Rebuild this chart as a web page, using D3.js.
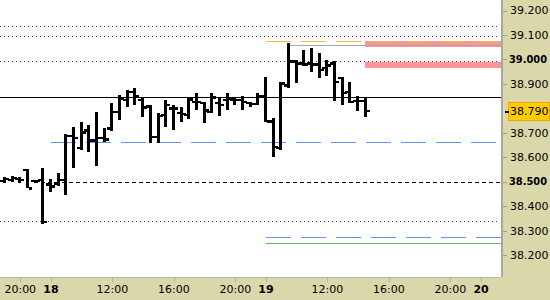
<!DOCTYPE html>
<html>
<head>
<meta charset="utf-8">
<script src="https://cdn.jsdelivr.net/npm/d3@7"></script>
<style>
  body { margin: 0; background: #fff; }
  text { font-family: "DejaVu Sans", Verdana, sans-serif; font-size: 11px; fill: #000; }
</style>
</head>
<body>
<div id="chart"></div>
<script>
// bar start, in trading hours counted from 8:00 on day 17 (a day = 8:00..22:00)
const times = [11, 11.5, 12, 12.5, 13, 13.5,
  14, 14.5, 15, 15.5, 16, 16.5, 17, 17.5, 18, 18.5, 19, 19.5, 20, 20.5,
  21, 21.5, 22, 22.5, 23, 23.5, 24, 24.5, 25, 25.5, 26, 26.5, 27, 27.5,
  28, 28.5, 29, 29.5, 30, 30.5, 31, 31.5, 32, 32.5, 33, 33.5, 34, 34.5];
const opens = [38.503, 38.507, 38.511, 38.548, 38.503, 38.507,
  38.490, 38.494, 38.507, 38.687, 38.638, 38.711, 38.670, 38.679, 38.719, 38.785, 38.834, 38.867, 38.834, 38.809,
  38.683, 38.773, 38.801, 38.781, 38.773, 38.826, 38.822, 38.785, 38.822, 38.834, 38.838, 38.834, 38.822, 38.818,
  38.850, 38.748, 38.638, 38.895, 38.993, 38.985, 38.985, 38.981, 38.965, 38.985, 38.924, 38.867, 38.830, 38.830];
const highs = [38.519, 38.523, 38.519, 38.552, 38.507, 38.556,
  38.511, 38.535, 38.695, 38.724, 38.744, 38.732, 38.785, 38.719, 38.822, 38.854, 38.875, 38.883, 38.842, 38.814,
  38.781, 38.834, 38.814, 38.805, 38.846, 38.863, 38.826, 38.863, 38.846, 38.863, 38.846, 38.850, 38.826, 38.863,
  38.928, 38.760, 38.908, 39.067, 38.998, 39.038, 39.047, 39.026, 38.998, 38.993, 38.928, 38.908, 38.850, 38.842];
const lows = [38.494, 38.498, 38.494, 38.474, 38.498, 38.327,
  38.458, 38.482, 38.445, 38.556, 38.629, 38.621, 38.564, 38.662, 38.707, 38.752, 38.805, 38.814, 38.764, 38.658,
  38.658, 38.724, 38.711, 38.744, 38.756, 38.793, 38.740, 38.781, 38.769, 38.793, 38.814, 38.793, 38.805, 38.814,
  38.744, 38.601, 38.629, 38.883, 38.903, 38.973, 38.948, 38.924, 38.932, 38.830, 38.814, 38.822, 38.789, 38.764];
const closes = [38.511, 38.515, 38.507, 38.474, 38.503, 38.335,
  38.482, 38.507, 38.687, 38.679, 38.703, 38.670, 38.679, 38.674, 38.785, 38.842, 38.867, 38.850, 38.805, 38.683,
  38.769, 38.814, 38.801, 38.777, 38.838, 38.826, 38.793, 38.846, 38.814, 38.842, 38.834, 38.826, 38.818, 38.850,
  38.748, 38.642, 38.903, 38.993, 38.985, 38.981, 38.981, 38.957, 38.977, 38.908, 38.863, 38.826, 38.830, 38.790];

const lastPrice = 38.790;
const pivotLevels = [39.137, 39.096, 38.993, 38.339];
const prevClose = 38.845;
const day17Close = 38.50;
const day18Level = 38.661;
const day19Levels = { blue: 38.272, green: 38.248, orange: 39.075, high: 39.058 };
const zones = [[39.051, 39.075], [38.965, 38.989]];

const yTicks = [39.2, 39.1, 39.0, 38.9, 38.7, 38.6, 38.5, 38.4, 38.3, 38.2];
const boldY = [39.0, 38.5];
const xTicks = [12, 14, 18, 22, 26, 28, 32, 36, 40, 42];
const xLabels = ["20:00", "18", "12:00", "16:00", "20:00", "19", "12:00", "16:00", "20:00", "20"];
const dayTicks = [14, 28, 42];

const W = 550, H = 300, plotW = 501, plotH = 277;

const svg = d3.select("#chart").append("svg")
  .attr("width", W).attr("height", H)
  .attr("shape-rendering", "crispEdges");

const x = d3.scaleLinear().domain([10.68, 43.3]).range([0, plotW]);
const y = d3.scaleLinear().domain([38.2, 39.2]).range([255, 10.5]);

// axis panels
svg.append("rect").attr("x", plotW).attr("y", 0).attr("width", W - plotW).attr("height", H).attr("fill", "#dad8aa");
svg.append("rect").attr("x", 0).attr("y", plotH).attr("width", W).attr("height", H - plotH).attr("fill", "#dad8aa");
svg.append("line").attr("x1", plotW + 0.5).attr("x2", plotW + 0.5).attr("y1", 0).attr("y2", plotH)
  .attr("stroke", "#a8a8a0").attr("stroke-width", 2);
svg.append("line").attr("x1", 0).attr("x2", plotW).attr("y1", plotH + 0.5).attr("y2", plotH + 0.5)
  .attr("stroke", "#b8b8b0").attr("stroke-width", 1);

function hline(p, x1, x2, color, dash, w) {
  svg.append("line")
    .attr("x1", x1).attr("x2", x2)
    .attr("y1", Math.round(y(p)) + 0.5).attr("y2", Math.round(y(p)) + 0.5)
    .attr("stroke", color).attr("stroke-width", w || 1)
    .attr("stroke-dasharray", dash || null);
}

// pink zones
svg.selectAll("rect.zone")
  .data(zones)
  .join("rect")
  .attr("class", "zone")
  .attr("x", x(34.44)).attr("width", plotW - x(34.44))
  .attr("y", d => y(d[1])).attr("height", d => y(d[0]) - y(d[1]))
  .attr("fill", "#ff9494");

// levels
pivotLevels.forEach(p => hline(p, 0, 498, "#8a00c8", "1,3"));
hline(prevClose, 0, plotW, "#000");
hline(day17Close, x(12.9), plotW, "#000", "4,3");
hline(day18Level, x(14), 498, "#6495ed", "25,10");
hline(day19Levels.blue, x(28), plotW, "#6495ed", "25,10");
hline(day19Levels.green, x(28), plotW, "#5cbf5c");
hline(day19Levels.high, x(29.4), plotW, "#a8a8a8");
hline(day19Levels.orange, x(28), plotW, "#f4b840", "25,10");

// OHLC bars
const bars = times.map((t, i) => ({ t, o: opens[i], h: highs[i], l: lows[i], c: closes[i] }));
const g = svg.append("g");
g.selectAll("rect.hl").data(bars).join("rect")
  .attr("x", d => Math.round(x(d.t)) - 2.5).attr("width", 3)
  .attr("y", d => y(d.h)).attr("height", d => Math.max(2, y(d.l) - y(d.h)))
  .attr("fill", "#000");
g.selectAll("rect.op").data(bars).join("rect")
  .attr("x", d => Math.round(x(d.t)) - 5.5).attr("width", 3)
  .attr("y", d => y(d.o) - 1).attr("height", 2.5)
  .attr("fill", "#000");
g.selectAll("rect.cl").data(bars).join("rect")
  .attr("x", d => Math.round(x(d.t)) + 0.5).attr("width", 3)
  .attr("y", d => y(d.c) - 1).attr("height", 2.5)
  .attr("fill", "#000");

// right axis
const ya = svg.append("g");
ya.selectAll("line").data(yTicks).join("line")
  .attr("x1", plotW + 2).attr("x2", plotW + 6)
  .attr("y1", d => Math.round(y(d)) + 0.5).attr("y2", d => Math.round(y(d)) + 0.5)
  .attr("stroke", "#a0a090");
ya.selectAll("text").data(yTicks).join("text")
  .attr("x", d => boldY.includes(d) ? 509 : 510).attr("y", d => y(d)).attr("dy", "0.36em")
  .style("font-weight", d => boldY.includes(d) ? "bold" : "normal")
  .style("font-size", d => boldY.includes(d) ? "10.5px" : null)
  .attr("textLength", d => boldY.includes(d) ? 38 : null)
  .attr("lengthAdjust", "spacingAndGlyphs")
  .text(d => d.toFixed(3));

// last price box
svg.append("rect")
  .attr("x", 508.5).attr("y", Math.round(y(lastPrice)) - 8.5)
  .attr("width", 41).attr("height", 18)
  .attr("fill", "#ffcc00").attr("stroke", "#e8a800");
svg.append("line")
  .attr("x1", plotW + 4).attr("x2", 509)
  .attr("y1", Math.round(y(lastPrice)) + 0.5).attr("y2", Math.round(y(lastPrice)) + 0.5)
  .attr("stroke", "#000").attr("stroke-width", 2);
svg.append("text")
  .attr("x", 510).attr("y", y(lastPrice)).attr("dy", "0.36em")
  .text(lastPrice.toFixed(3));

// bottom axis
const xa = svg.append("g");
xa.selectAll("line").data(xTicks).join("line")
  .attr("x1", d => Math.round(x(d)) + 0.5).attr("x2", d => Math.round(x(d)) + 0.5)
  .attr("y1", plotH + 1).attr("y2", plotH + 5)
  .attr("stroke", "#b0b0a0");
xa.selectAll("text").data(xTicks).join("text")
  .attr("x", d => x(d)).attr("y", 293)
  .attr("text-anchor", "middle")
  .style("font-weight", d => dayTicks.includes(d) ? "bold" : "normal")
  .text((d, i) => xLabels[i]);
</script>
</body>
</html>
